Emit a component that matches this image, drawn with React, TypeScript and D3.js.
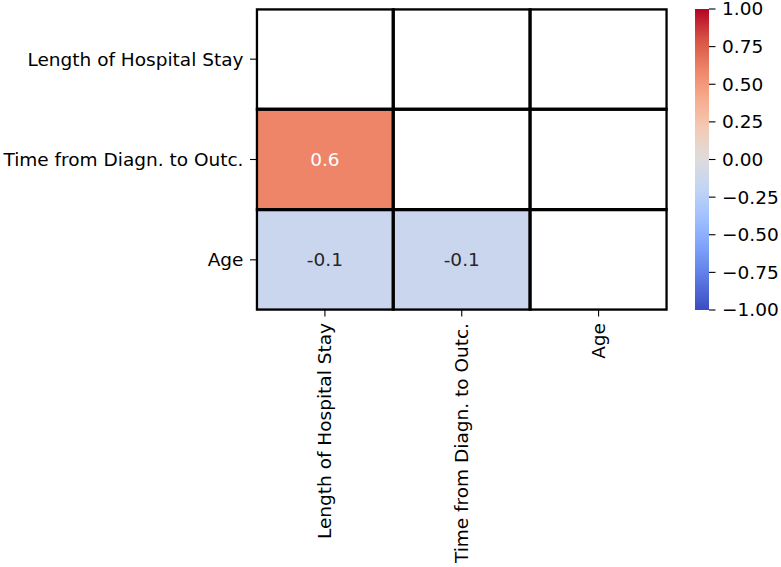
import React from "react";
import * as d3 from "d3";

const labels = ["Length of Hospital Stay", "Time from Diagn. to Outc.", "Age"];
// correlation values; null = masked (upper triangle incl. diagonal)
const row0: (number | null)[] = [null, null, null];
const row1: (number | null)[] = [0.6, null, null];
const row2: (number | null)[] = [-0.14, -0.14, null];
const matrix = [row0, row1, row2];
const cbTicks = [1, 0.75, 0.5, 0.25, 0, -0.25, -0.5, -0.75, -1];
const coolwarm = ["#3b4cc0", "#5977e3", "#7b9ff9", "#9ebeff", "#c0d4f5", "#dddcdc", "#f2cbb7", "#f7ac8e", "#ee8468", "#d65244", "#b40426"];

const W = 781, H = 567;
const X0 = 256.5, X1 = 667, Y0 = 9, Y1 = 310;
const CBX = 695, CBW = 14;
const FONT = "DejaVu Sans, sans-serif";
const FS = 18.5;
const TICK = 6.5, PAD = 6.5;

export default function App() {
  const x = d3.scaleBand<number>().domain([0, 1, 2]).range([X0, X1]);
  const y = d3.scaleBand<number>().domain([0, 1, 2]).range([Y0, Y1]);
  const interp = d3.piecewise(d3.interpolateRgb, coolwarm);
  const color = (v: number) => interp((v + 1) / 2);
  const cbY = d3.scaleLinear().domain([-1, 1]).range([Y1, Y0]);
  const fmt = (v: number) => v.toFixed(2).replace("-", "\u2212");
  const gradId = "cbgrad";
  const stops = d3.range(0, 1.0001, 0.05);

  const cells: JSX.Element[] = [];
  matrix.forEach((row, i) =>
    row.forEach((v, j) => {
      cells.push(
        <rect key={`c${i}-${j}`} x={x(j)} y={y(i)} width={x.bandwidth()} height={y.bandwidth()}
          fill={v === null ? "#ffffff" : color(v)} stroke="#000" strokeWidth={3.2} />
      );
    })
  );

  return (
    <svg width={W} height={H} style={{ position: "absolute", left: 0, top: 0 }} fontFamily={FONT}>
      <rect width={W} height={H} fill="#fff" />
      <defs>
        <clipPath id="plotclip">
          <rect x={X0 - 0.7} y={Y0 - 0.7} width={X1 - X0 + 1.4} height={Y1 - Y0 + 1.4} />
        </clipPath>
        <linearGradient id={gradId} x1="0" y1="1" x2="0" y2="0">
          {stops.map((t) => (
            <stop key={t} offset={t} stopColor={interp(t)} />
          ))}
        </linearGradient>
      </defs>
      <g clipPath="url(#plotclip)">{cells}</g>
      {matrix.map((row, i) =>
        row.map((v, j) =>
          v === null ? null : (
            <text key={`t${i}-${j}`} x={x(j)! + x.bandwidth() / 2} y={y(i)! + y.bandwidth() / 2}
              dy="0.35em" textAnchor="middle" fontSize={FS} fill={v > 0.3 ? "#ffffff" : "#262626"}>
              {v.toFixed(1)}
            </text>
          )
        )
      )}
      {/* y axis ticks */}
      {labels.map((l, i) => {
        const cy = y(i)! + y.bandwidth() / 2;
        return (
          <g key={`y${i}`}>
            <line x1={X0 - TICK} x2={X0} y1={cy} y2={cy} stroke="#000" strokeWidth={1.1} />
            <text x={X0 - TICK - PAD} y={cy} dy="0.35em" textAnchor="end" fontSize={FS} fill="#000">{l}</text>
          </g>
        );
      })}
      {/* x axis ticks */}
      {labels.map((l, j) => {
        const cx = x(j)! + x.bandwidth() / 2;
        return (
          <g key={`x${j}`}>
            <line x1={cx} x2={cx} y1={Y1} y2={Y1 + TICK} stroke="#000" strokeWidth={1.1} />
            <text transform={`translate(${cx},${Y1 + TICK + PAD}) rotate(-90)`} dy="0.35em" textAnchor="end" fontSize={FS} fill="#000">{l}</text>
          </g>
        );
      })}
      {/* colorbar */}
      <rect x={CBX} y={Y0} width={CBW} height={Y1 - Y0} fill={`url(#${gradId})`} />
      {cbTicks.map((t) => (
        <g key={`cb${t}`}>
          <line x1={CBX + CBW} x2={CBX + CBW + TICK} y1={cbY(t)} y2={cbY(t)} stroke="#000" strokeWidth={1.1} />
          <text x={CBX + CBW + TICK + PAD} y={cbY(t)} dy="0.35em" fontSize={FS} fill="#000">{fmt(t)}</text>
        </g>
      ))}
    </svg>
  );
}
